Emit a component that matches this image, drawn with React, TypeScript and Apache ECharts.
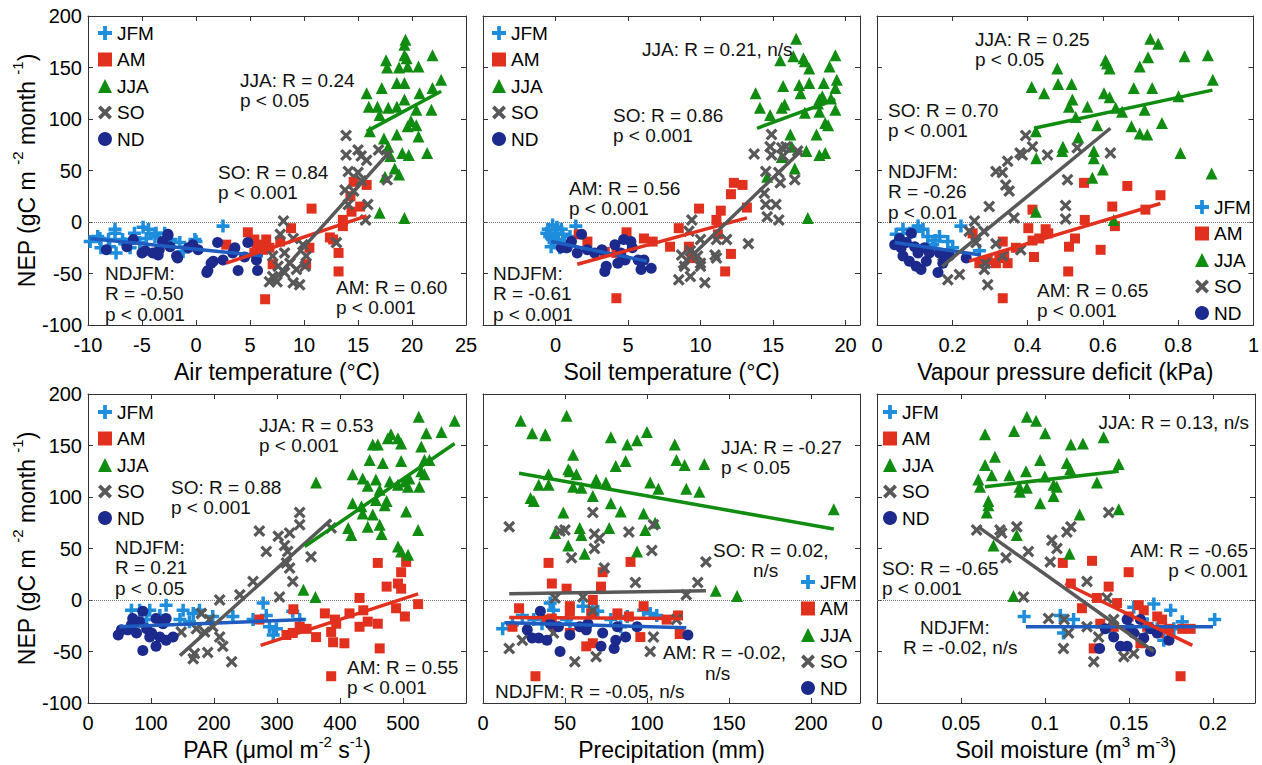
import React, { useEffect, useRef } from 'react';
import * as echarts from 'echarts';

const FONT = '"Liberation Sans", Arial, Helvetica, sans-serif';
const seasons = ['JFM', 'AM', 'JJA', 'SO', 'ND'];
const seasonColors = ['#1e8ddc', '#e2301f', '#108c10', '#585858', '#1b2a8c'];
const fitNames = ['NDJFM', 'AM', 'SO', 'JJA'];
const fitColors = ['#1f5cc0', '#e2301f', '#585858', '#108c10'];

// ---------- Panel 1: Air temperature ----------
const airJFM = [[-9.8,-19],[-9.1,-14],[-8.9,-16],[-8.1,-17],[-7.5,-7],[-7.5,-11],[-8.0,-24],[-8.8,-25],[-6.8,-17],[-6.6,-21],[-6.1,-25],[-5.7,-11],[-5.2,-20],[-4.9,-5],[-4.4,-7],[-4.6,-16],[-3.8,-14],[-3.7,-11],[-2.9,-11],[-2.6,-17],[-2.3,-17],[-1.5,-20],[-1.2,-29],[-0.1,-17],[0.0,-19],[2.5,-4],[-7.4,-30]];
const airAM = [[14.6,39],[15.8,36],[14.3,25],[15.2,15],[14.4,10],[13.6,2],[13.6,-4],[10.7,13],[8.8,-6],[12.4,-15],[12.7,-17],[13.2,-30],[13.2,-48],[10.5,-25],[10.2,-41],[4.8,-10],[2.8,-22],[5.6,-24],[5.9,-22],[5.4,-30],[6.5,-17],[6.2,-27],[6.8,-25],[7.1,-41],[6.4,-75],[7.8,-19],[5.4,-17]];
const airJJA = [[19.4,177],[19.3,172],[17.6,157],[17.7,150],[19.3,162],[19.5,159],[18.8,150],[19.6,151],[20.6,151],[21.9,162],[22.7,138],[21.9,130],[20.7,125],[18.6,135],[19.3,135],[17.2,130],[15.8,125],[16.0,112],[16.8,112],[17.8,111],[18.6,112],[19.3,119],[20.4,109],[21.8,109],[17.0,104],[19.9,98],[20.4,94],[19.6,93],[16.1,88],[17.4,81],[18.6,85],[20.6,83],[17.8,73],[19.1,67],[19.7,65],[21.4,67],[18.0,64],[18.4,52],[18.8,46],[17.5,44],[17.0,9],[19.3,4]];
const airSO = [[13.9,84],[13.9,65],[15.0,70],[15.3,64],[14.1,49],[15.0,48],[15.8,60],[16.9,70],[17.7,65],[17.7,41],[13.8,31],[14.1,17],[15.9,17],[15.7,2],[13.0,-20],[8.1,1],[7.8,-12],[9.0,-16],[7.1,-33],[8.2,-30],[9.9,-22],[10.2,-33],[8.7,-40],[7.6,-43],[7.1,-53],[8.2,-49],[9.3,-46],[9.0,-59],[9.6,-61],[10.1,-43],[6.8,-58],[7.5,-58],[14.6,30],[15.3,40]];
const airND = [[-2.6,-12],[-8.3,-27],[-5.8,-17],[-5.0,-30],[-4.7,-28],[-4.0,-30],[-3.4,-27],[-2.4,-24],[-2.6,-13],[-1.7,-35],[-0.7,-25],[0.2,-27],[1.1,-47],[1.6,-38],[2.0,-20],[2.5,-37],[3.6,-25],[3.9,-47],[4.5,-34],[5.6,-37],[5.7,-47],[1.0,-49],[1.4,-40],[4.8,-20],[-6.4,-24],[-3.1,-19],[-3.5,-32],[-0.3,-22],[3.4,-30],[-1.8,-33]];
const airFits = [[-9.8,-16,6.2,-33],[2.8,-40,15.8,6],[7.0,-59,18.0,69],[15.8,88,22.7,127]];

// ---------- Panel 2: Soil temperature ----------
const stJFM = [[-0.5,-7],[-0.2,-3],[0.0,-11],[-0.4,-14],[0.2,-17],[0.5,-12],[-0.1,-20],[0.7,-24],[1.4,-4],[-0.3,-24],[0.3,-25],[-0.6,-11],[1.0,-14],[0.4,-7],[0.1,-5],[-0.2,-17],[0.6,-19]];
const stAM = [[12.3,38],[12.9,36],[12.1,27],[9.9,13],[11.4,11],[13.2,14],[8.5,-6],[11.1,2],[11.2,-12],[12.1,-31],[11.7,-48],[7.9,-24],[9.4,-35],[6.1,-16],[6.7,-19],[4.9,-10],[4.2,-74],[2.2,-19],[1.6,-12],[3.4,-29],[4.2,-30],[9.2,-24]];
const stJJA = [[16.6,178],[15.5,157],[16.4,161],[17.1,159],[17.2,156],[17.5,149],[19.3,162],[18.9,151],[13.8,125],[14.1,111],[14.8,104],[15.7,132],[15.8,114],[15.6,111],[16.8,133],[17.5,135],[18.5,135],[19.4,138],[19.3,130],[19.0,120],[18.2,119],[18.4,122],[16.9,125],[17.2,106],[18.2,107],[18.1,115],[18.6,96],[18.8,94],[18.0,85],[16.2,85],[16.3,73],[17.3,69],[18.2,65],[18.6,67],[19.3,109],[15.6,63],[16.5,52],[14.6,44],[17.4,4]];
const stSO = [[14.9,85],[13.7,66],[14.8,73],[14.9,65],[15.6,72],[15.9,73],[15.7,64],[16.7,69],[14.5,49],[15.4,48],[16.5,41],[14.4,28],[15.5,38],[14.5,17],[15.2,17],[14.6,5],[15.4,2],[13.3,-21],[9.4,2],[9.2,-9],[10.0,-17],[11.1,-17],[11.8,-17],[8.7,-32],[9.3,-28],[8.9,-43],[9.3,-53],[10.0,-43],[10.3,-59],[8.5,-56],[11.0,-32],[11.1,-35],[9.8,-33],[10.0,-40]];
const stND = [[1.8,-12],[1.1,-19],[0.8,-25],[1.5,-30],[2.2,-27],[3.2,-27],[4.1,-22],[4.7,-17],[5.2,-19],[5.3,-25],[4.8,-37],[5.7,-37],[6.1,-37],[5.9,-46],[6.6,-45],[3.4,-48],[3.5,-43],[4.5,-30],[0.4,-25],[2.7,-30],[4.3,-40]];
const stFits = [[-0.3,-19,6.3,-38],[1.5,-41,13.2,4],[8.5,-45,17.0,70],[13.9,91,19.3,119]];

// ---------- Panel 3: Vapour pressure deficit ----------
const vpdJFM = [[0.069,-7],[0.122,-7],[0.109,-4],[0.087,-11],[0.135,-14],[0.166,-14],[0.188,-19],[0.223,-4],[0.051,-12],[0.148,-22],[0.201,-25],[0.272,-28],[0.060,-19],[0.100,-9],[0.155,-18]];
const vpdAM = [[0.550,38],[0.665,35],[0.753,26],[0.413,12],[0.625,15],[0.713,12],[0.552,2],[0.632,-4],[0.402,-6],[0.448,-7],[0.455,-11],[0.413,-18],[0.431,-16],[0.526,-16],[0.510,-24],[0.594,-27],[0.417,-34],[0.508,-48],[0.334,-74],[0.334,-19],[0.325,-35],[0.347,-40],[0.294,-37],[0.316,-40],[0.254,-11],[0.369,-25],[0.272,-40],[0.338,-33]];
const vpdJJA = [[0.726,178],[0.747,173],[0.479,149],[0.607,157],[0.611,154],[0.618,149],[0.720,160],[0.698,151],[0.817,161],[0.879,162],[0.892,138],[0.411,131],[0.444,125],[0.481,134],[0.517,134],[0.603,125],[0.618,121],[0.682,130],[0.731,130],[0.801,122],[0.519,119],[0.510,112],[0.559,112],[0.528,102],[0.585,94],[0.634,111],[0.651,107],[0.711,109],[0.676,93],[0.698,86],[0.718,85],[0.757,96],[0.422,88],[0.535,82],[0.494,73],[0.576,69],[0.492,69],[0.423,62],[0.576,62],[0.600,51],[0.572,43],[0.806,67],[0.889,47],[0.422,10],[0.629,2]];
const vpdSO = [[0.395,84],[0.413,73],[0.380,67],[0.386,65],[0.347,59],[0.453,65],[0.532,72],[0.620,67],[0.316,49],[0.333,48],[0.342,36],[0.351,30],[0.506,41],[0.298,15],[0.364,4],[0.501,16],[0.501,3],[0.259,1],[0.245,-9],[0.284,-9],[0.316,-21],[0.263,-20],[0.382,-27],[0.334,-33],[0.288,-40],[0.188,-56],[0.219,-51],[0.285,-46],[0.294,-61],[0.175,-33]];
const vpdND = [[0.047,-22],[0.060,-16],[0.078,-20],[0.091,-11],[0.100,-24],[0.109,-30],[0.069,-33],[0.104,-43],[0.131,-38],[0.139,-30],[0.166,-30],[0.179,-33],[0.162,-49],[0.175,-40],[0.192,-33],[0.117,-46],[0.086,-38],[0.064,-25],[0.126,-25],[0.237,-35]];
const vpdFits = [[0.047,-20,0.276,-32],[0.245,-38,0.753,18],[0.173,-43,0.620,91],[0.417,91,0.891,128]];

// ---------- Panel 4: PAR ----------
const parJFM = [[69,-10],[82,-10],[98,-10],[124,-5],[151,-10],[167,-13],[177,-10],[198,-16],[230,-16],[278,-3],[283,-15],[288,-26],[299,-28],[325,-11],[262,-19],[294,-34],[146,-19],[114,-15],[93,-19],[161,-21],[336,-19]];
const parAM = [[460,36],[505,37],[497,27],[474,13],[492,16],[497,11],[431,2],[326,-9],[272,-19],[524,-4],[489,-8],[503,-16],[415,-13],[444,-21],[431,-26],[460,-23],[376,-13],[392,-19],[394,-23],[347,-28],[325,-32],[315,-34],[362,-36],[386,-31],[389,-41],[407,-42],[463,-47],[386,-74],[437,-10],[336,-26]];
const parJJA = [[525,178],[582,174],[481,161],[476,157],[492,157],[497,152],[537,162],[561,163],[452,151],[460,151],[529,149],[447,136],[468,133],[497,135],[534,136],[420,122],[436,118],[457,117],[444,111],[463,107],[479,115],[503,115],[508,110],[510,118],[526,110],[529,125],[534,122],[542,136],[457,97],[474,96],[471,92],[420,94],[434,91],[492,112],[362,114],[436,84],[452,83],[505,86],[444,71],[463,73],[413,70],[418,63],[466,64],[524,68],[492,52],[497,47],[508,44],[342,10],[361,3]];
const parSO = [[336,85],[336,73],[320,65],[272,67],[302,62],[312,53],[283,47],[317,47],[354,42],[315,36],[320,31],[262,18],[325,18],[241,5],[304,3],[209,0],[180,-13],[193,-19],[172,-28],[185,-31],[209,-36],[214,-45],[169,-52],[190,-51],[167,-57],[228,-60],[198,-26],[148,-31],[386,70]];
const parND = [[48,-34],[63,-29],[71,-18],[87,-11],[82,-21],[93,-28],[77,-32],[108,-18],[119,-23],[124,-18],[101,-32],[114,-36],[124,-39],[108,-45],[87,-49],[135,-36],[98,-36],[53,-29],[69,-24]];
const parFits = [[50,-26,344,-19],[274,-44,524,6],[146,-54,386,78],[344,52,582,152]];

// ---------- Panel 5: Precipitation ----------
const prJFM = [[12,-28],[18,-24],[24,-15],[36,-23],[41,-3],[43,-10],[51,-19],[61,-6],[67,-10],[70,-11],[78,-19],[88,-16],[98,-10],[102,-13],[106,-15],[31,-19],[53,-23],[84,-26]];
const prAM = [[40,36],[90,37],[73,27],[42,16],[51,11],[72,13],[67,0],[22,-8],[53,-6],[98,-6],[39,-19],[42,-18],[53,-11],[66,-13],[82,-13],[89,-16],[112,-19],[119,-15],[18,-26],[63,-45],[67,-42],[96,-36],[120,-33],[32,-74],[53,-32],[44,-26]];
const prJJA = [[23,174],[51,179],[30,162],[38,161],[38,160],[78,158],[100,163],[88,151],[94,155],[117,151],[118,136],[123,131],[135,132],[55,141],[52,127],[53,125],[57,122],[40,122],[81,130],[87,135],[34,112],[40,112],[55,110],[60,109],[69,117],[69,114],[75,114],[102,114],[107,108],[124,108],[132,105],[67,101],[29,99],[31,96],[78,94],[84,86],[49,85],[98,84],[44,65],[59,70],[60,63],[77,70],[105,75],[99,68],[52,53],[62,45],[94,47],[142,9],[155,4],[214,88]];
const prSO = [[16,71],[67,85],[47,67],[50,68],[68,64],[71,60],[68,50],[104,73],[89,66],[54,41],[103,48],[74,31],[136,37],[93,17],[131,17],[124,5],[44,2],[61,3],[67,-10],[16,-47],[24,-39],[56,-60],[69,-55],[104,-36],[102,-50],[118,-19],[43,-32]];
const prND = [[27,-29],[35,-11],[30,-37],[34,-37],[39,-39],[47,-50],[46,-26],[53,-34],[59,-26],[64,-23],[73,-32],[72,-45],[81,-39],[80,-47],[87,-36],[94,-26],[63,-29],[125,-34],[82,-26],[41,-23]];
const prFits = [[13,-22,124,-27],[16,-17,120,-18],[16,6,136,9],[22,123,214,69]];

// ---------- Panel 6: Soil moisture ----------
const smJFM = [[0.0876,-16],[0.1091,-15],[0.1170,-19],[0.1110,-32],[0.1528,-7],[0.1648,-4],[0.1748,-10],[0.1817,-21],[0.2010,-19],[0.1707,-39],[0.1389,-29],[0.1608,-23],[0.1668,-28],[0.1767,-28]];
const smAM = [[0.1106,36],[0.1280,38],[0.1498,27],[0.1154,16],[0.1379,13],[0.1309,2],[0.1429,-3],[0.1220,-8],[0.1558,-5],[0.1588,-10],[0.1498,-16],[0.1329,-23],[0.1409,-26],[0.1668,-16],[0.1697,-19],[0.1737,-28],[0.1817,-28],[0.1867,-28],[0.1568,-42],[0.1290,-47],[0.1807,-74],[0.1677,-32],[0.1608,-26]];
const smJJA = [[0.0892,178],[0.0947,174],[0.0643,161],[0.0816,164],[0.1001,162],[0.1349,158],[0.1154,151],[0.1226,152],[0.0702,139],[0.0643,131],[0.0971,136],[0.1130,133],[0.1150,127],[0.1439,132],[0.0683,121],[0.0788,121],[0.0887,125],[0.0999,120],[0.0603,117],[0.0613,110],[0.0848,110],[0.0892,109],[0.1051,112],[0.1070,110],[0.1309,114],[0.0851,105],[0.1051,101],[0.0663,96],[0.0663,92],[0.0653,85],[0.0971,94],[0.1206,83],[0.1439,88],[0.0832,63],[0.0693,53],[0.1146,45],[0.0812,4]];
const smSO = [[0.0593,68],[0.0732,68],[0.0832,71],[0.0742,65],[0.0901,47],[0.0768,41],[0.1041,58],[0.1071,50],[0.1031,37],[0.1130,66],[0.1154,71],[0.1379,85],[0.1250,18],[0.0872,3],[0.1369,2],[0.1021,-18],[0.1114,-19],[0.1140,-32],[0.1110,-47],[0.1290,-60],[0.1250,-26],[0.1319,-36],[0.1409,-19],[0.1469,-55],[0.1528,-52],[0.1578,-36]];
const smND = [[0.1325,-47],[0.1359,-28],[0.1449,-45],[0.1489,-45],[0.1489,-19],[0.1528,-32],[0.1588,-37],[0.1628,-28],[0.1628,-50],[0.1668,-32],[0.1738,-39],[0.1409,-36],[0.1568,-19],[0.1508,-28]];
const smFits = [[0.0886,-26,0.2,-26],[0.112,16,0.1877,-44],[0.0603,71,0.1648,-50],[0.0643,110,0.1439,125]];

const yTicks = { min: -100, max: 200, interval: 50 };

const PLUS = 'path://M-1,-0.27L-0.27,-0.27L-0.27,-1L0.27,-1L0.27,-0.27L1,-0.27L1,0.27L0.27,0.27L0.27,1L-0.27,1L-0.27,0.27L-1,0.27Z';
const CROSS = 'path://M-1,-0.62L-0.62,-1L0,-0.38L0.62,-1L1,-0.62L0.38,0L1,0.62L0.62,1L0,0.38L-0.62,1L-1,0.62L-0.38,0Z';
const symbols = [PLUS, 'rect', 'triangle', CROSS, 'circle'];
const symbolSizes = [13, 10, 12, 12, 11];

const panels = [
  { box: [88, 16, 378, 309], x: [-10, 25, 5], name: 'Air temperature (°C)', data: [airJFM, airAM, airJJA, airSO, airND], fits: airFits, yLab: true, hideMin: false, hideMax: false, legend: [98, 23.5] },
  { box: [483, 16, 377, 309], x: [-5, 21, 5], name: 'Soil temperature (°C)', data: [stJFM, stAM, stJJA, stSO, stND], fits: stFits, yLab: false, hideMin: true, hideMax: true, legend: [492, 23.5] },
  { box: [877, 16, 378, 309], x: [0, 1, 0.2], name: 'Vapour pressure deficit (kPa)', data: [vpdJFM, vpdAM, vpdJJA, vpdSO, vpdND], fits: vpdFits, yLab: false, hideMin: false, hideMax: false, legend: [1195, 197.5] },
  { box: [88, 394, 378, 309], x: [0, 600, 100], name: '{a|PAR (μmol m}{s|-2}{a| s}{s|-1}{a|)}', data: [parJFM, parAM, parJJA, parSO, parND], fits: parFits, yLab: true, hideMin: false, hideMax: true, legend: [98, 402.5] },
  { box: [483, 394, 377, 309], x: [0, 230, 50], name: 'Precipitation (mm)', data: [prJFM, prAM, prJJA, prSO, prND], fits: prFits, yLab: false, hideMin: false, hideMax: true, legend: [801, 572.5] },
  { box: [877, 394, 378, 309], x: [0, 0.225, 0.05], name: '{a|Soil moisture (m}{s|3}{a| m}{s|-3}{a|)}', data: [smJFM, smAM, smJJA, smSO, smND], fits: smFits, yLab: false, hideMin: false, hideMax: true, legend: [883, 402.5] },
];

const annotations = [
  { x: 240, y: 80, t: 'JJA: R = 0.24\np < 0.05' },
  { x: 218, y: 172, t: 'SO: R = 0.84\np < 0.001' },
  { x: 105, y: 273, t: 'NDJFM:\nR = -0.50\np < 0.001' },
  { x: 336, y: 287, t: 'AM: R = 0.60\np < 0.001' },
  { x: 642, y: 49, t: 'JJA: R = 0.21, n/s' },
  { x: 613, y: 115, t: 'SO: R = 0.86\np < 0.001' },
  { x: 569, y: 188, t: 'AM: R = 0.56\np < 0.001' },
  { x: 493, y: 273, t: 'NDJFM:\nR = -0.61\np < 0.001' },
  { x: 975, y: 39, t: 'JJA: R = 0.25\np < 0.05' },
  { x: 888, y: 110, t: 'SO: R = 0.70\np < 0.001' },
  { x: 888, y: 171, t: 'NDJFM:\nR = -0.26\np < 0.01' },
  { x: 1037, y: 290, t: 'AM: R = 0.65\np < 0.001' },
  { x: 259, y: 425, t: 'JJA: R = 0.53\np < 0.001' },
  { x: 171, y: 487, t: 'SO: R = 0.88\np < 0.001' },
  { x: 115, y: 547, t: 'NDJFM:\nR = 0.21\np < 0.05' },
  { x: 347, y: 667, t: 'AM: R = 0.55\np < 0.001' },
  { x: 721, y: 447, t: 'JJA: R = -0.27\np < 0.05' },
  { x: 713, y: 550, t: 'SO: R = 0.02,' },
  { x: 753, y: 570, t: 'n/s' },
  { x: 663, y: 652, t: 'AM: R = -0.02,' },
  { x: 705, y: 673, t: 'n/s' },
  { x: 495, y: 691, t: 'NDJFM: R = -0.05, n/s' },
  { x: 1249, y: 422, t: 'JJA: R = 0.13, n/s', right: true },
  { x: 1248, y: 550, t: 'AM: R = -0.65\np < 0.001', right: true },
  { x: 882, y: 568, t: 'SO: R = -0.65\np < 0.001' },
  { x: 920, y: 627, t: 'NDJFM:' },
  { x: 903, y: 647, t: 'R = -0.02, n/s' },
];

const AXIS_COLOR = '#333';
const richName = {
  a: { fontSize: 23, lineHeight: 28, fontFamily: FONT, color: '#000', verticalAlign: 'bottom' },
  s: { fontSize: 15, lineHeight: 15, fontFamily: FONT, color: '#000', verticalAlign: 'top' },
};
const yName = '{a|NEP (gC m }{s|-2}{a| month }{s|-1}{a|)}';

function buildOption() {
  const grid: any[] = [];
  const xAxis: any[] = [];
  const yAxis: any[] = [];
  const series: any[] = [];
  const legend: any[] = [];
  const n = panels.length;

  panels.forEach((p, i) => {
    const [left, top, width, height] = p.box;
    grid.push({ left, top, width, height, containLabel: false });
    const [xmin, xmax, xint] = p.x;
    const common = {
      gridIndex: i, type: 'value', min: xmin, max: xmax, interval: xint,
      splitLine: { show: false },
      axisLine: { onZero: false, lineStyle: { color: AXIS_COLOR, width: 1 } },
      axisTick: { inside: true, length: 5, lineStyle: { color: AXIS_COLOR } },
    };
    xAxis[i] = {
      ...common, position: 'bottom',
      axisLabel: { color: '#000', fontSize: 20, fontFamily: FONT, margin: 10, showMinLabel: !p.hideMin, showMaxLabel: !p.hideMax },
      name: p.name.startsWith('{') ? p.name : `{a|${p.name}}`, nameLocation: 'middle', nameGap: 30,
      nameTextStyle: { fontSize: 23, fontFamily: FONT, color: '#000', rich: richName },
    };
    xAxis[i + n] = { ...common, position: 'top', axisLabel: { show: false } };
    const ycommon = {
      gridIndex: i, type: 'value', ...yTicks,
      splitLine: { show: false },
      axisLine: { onZero: false, lineStyle: { color: AXIS_COLOR, width: 1 } },
      axisTick: { inside: true, length: 5, lineStyle: { color: AXIS_COLOR } },
    };
    yAxis[i] = {
      ...ycommon, position: 'left',
      axisLabel: { show: p.yLab, color: '#000', fontSize: 20, fontFamily: FONT, margin: 6 },
      ...(p.yLab ? { name: yName, nameLocation: 'middle', nameGap: 33, nameTextStyle: { fontSize: 23, fontFamily: FONT, color: '#000', rich: richName } } : {}),
    };
    yAxis[i + n] = { ...ycommon, position: 'right', axisLabel: { show: false } };

    p.data.forEach((d, k) => {
      series.push({
        type: 'scatter', name: seasons[k], xAxisIndex: i, yAxisIndex: i, data: d,
        symbol: symbols[k], symbolSize: symbolSizes[k],
        itemStyle: { color: seasonColors[k], opacity: 1 }, z: 2 + k, silent: true,
        ...(k === 0 ? {
          markLine: {
            silent: true, symbol: ['none', 'none'], label: { show: false },
            lineStyle: { type: 'dotted', color: '#777', width: 1 },
            data: [{ yAxis: 0 }], z: 1,
          },
        } : {}),
      });
    });
    p.fits.forEach((f, k) => {
      series.push({
        type: 'line', name: 'fit ' + fitNames[k], xAxisIndex: i, yAxisIndex: i,
        data: [[f[0], f[1]], [f[2], f[3]]], symbol: 'none', showSymbol: false,
        lineStyle: { color: fitColors[k], width: 3.5 }, z: 10, silent: true,
      });
    });
    legend.push({
      data: seasons, orient: 'vertical', left: p.legend[0], top: p.legend[1],
      itemWidth: 14, itemHeight: 14, itemGap: 7.5, padding: 0, selectedMode: false,
      textStyle: { fontSize: 19, fontFamily: FONT, color: '#000', lineHeight: 19 },
    });
  });

  const graphic = annotations.map((a) => ({
    type: 'text', x: a.x, y: a.y - 10.25, z: 100, silent: true,
    style: {
      text: a.t, fontSize: 19, fontFamily: FONT, fill: '#111',
      align: a.right ? 'right' : 'left', verticalAlign: 'top', lineHeight: 20.5,
    },
  }));

  return { animation: false, backgroundColor: '#fff', grid, xAxis, yAxis, series, legend, graphic };
}

export default function App() {
  const ref = useRef<HTMLDivElement>(null);
  useEffect(() => {
    if (!ref.current) return;
    const chart = echarts.init(ref.current, undefined, { renderer: 'svg' });
    chart.setOption(buildOption() as any);
    return () => chart.dispose();
  }, []);
  return (
    <div
      ref={ref}
      style={{ position: 'fixed', left: 0, top: 0, width: 1262, height: 765, background: '#fff' }}
    />
  );
}
